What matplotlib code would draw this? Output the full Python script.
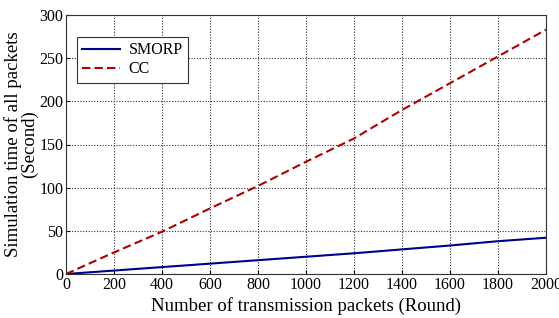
import matplotlib
matplotlib.use("Agg")
import matplotlib.pyplot as plt

plt.rcParams['font.family'] = ['Liberation Serif', 'DejaVu Serif']

# data
rounds = [0, 200, 400, 600, 800, 1000, 1200, 1400, 1600, 1800, 2000]
smorp = [0, 4, 8, 12, 16, 20, 24, 28.5, 33, 38, 42]
cc = [0, 25, 49, 76, 102, 130, 157, 190, 221, 252, 283]

fig = plt.figure(figsize=(5.59, 3.18), dpi=100)
ax = fig.add_axes([66 / 559, 1 - 274 / 318, 480 / 559, 259 / 318])

ax.plot(rounds, smorp, color='#00008b', linewidth=1.5, label='SMORP')
ax.plot(rounds, cc, color='#b00000', linewidth=1.5, linestyle='--', dashes=(4, 2), label='CC')

ax.set_xlim(0, 2000)
ax.set_ylim(0, 300)
ax.set_xticks(range(0, 2001, 200))
ax.set_yticks(range(0, 301, 50))
ax.grid(True, color='#333333', linestyle=(0, (1, 1.5)), linewidth=0.8)
ax.tick_params(direction='in', labelsize=11.5, length=3, pad=2)
for s in ax.spines.values():
    s.set_color('#333333')

ax.set_xlabel('Number of transmission packets (Round)', fontsize=13.5, labelpad=3)
ax.set_ylabel('Simulation time of all packets\n(Second)', fontsize=13.5, labelpad=1, linespacing=0.9)

leg = ax.legend(loc='upper left', bbox_to_anchor=(0.012, 0.935), fontsize=11.5, fancybox=False,
                edgecolor='#333333', framealpha=1, handlelength=2.4, borderpad=0.35,
                labelspacing=0.2, handletextpad=0.5, borderaxespad=0.3)
leg.get_frame().set_linewidth(0.8)
leg.get_frame().set_width(leg.get_frame().get_width())

fig.savefig('out.png', dpi=100)
